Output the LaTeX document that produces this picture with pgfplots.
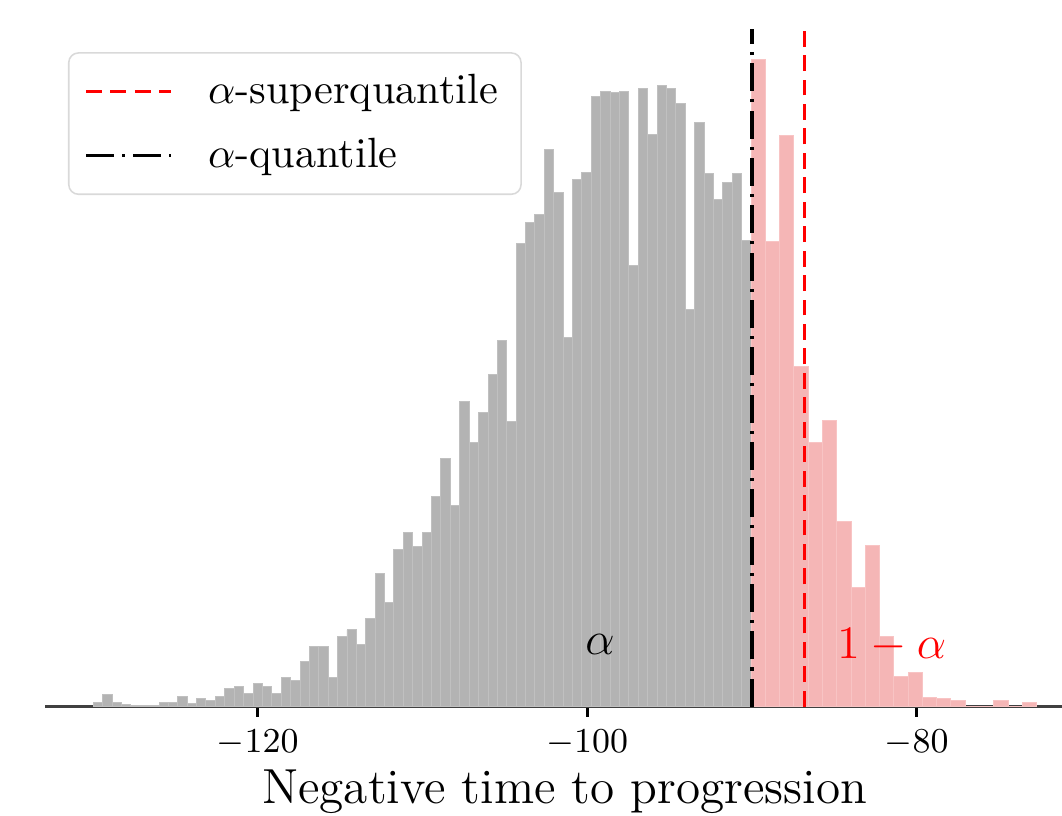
\documentclass[border=0pt]{standalone}
\usepackage{pgfplots}
\pgfplotsset{compat=1.18}
\usetikzlibrary{calc}

\definecolor{histgray}{RGB}{179,179,179}
\definecolor{histpink}{RGB}{245,182,182}

\begin{document}
\begin{tikzpicture}
\begin{axis}[
  scale only axis,
  width=262.1pt, height=174.6pt,
  xmin=-132.91, xmax=-71.18,
  ymin=0, ymax=676,
  axis x line*=bottom,
  axis y line=none,
  x axis line style={black!75, line width=0.8pt},
  xtick={-120,-100,-80},
  tick align=outside,
  major tick length=2.6pt,
  xtick style={black, line width=0.8pt},
  tick label style={font=\fontsize{9.5}{11}\selectfont},
  xlabel={Negative time to progression},
  xlabel style={font=\fontsize{12.7}{15}\selectfont, at={(axis description cs:0.511,0)}, anchor=base, yshift=-25pt},
  legend style={at={(0.0226,0.966)}, anchor=north west, draw=black!15, rounded corners=2.5pt,
    fill=white, font=\fontsize{10.9}{12.5}\selectfont, inner xsep=4pt, inner ysep=3.5pt,
    row sep=3.3pt, cells={anchor=west},
    /tikz/every odd column/.append style={column sep=7pt}},
  legend image code/.code={\draw[#1] (0pt,0pt) -- (22pt,0pt);},
]
% grey part of the histogram (below the quantile)
\addplot[ybar interval, fill=histgray, draw={rgb,255:red,192;green,192;blue,192}, line width=0.25pt, forget plot]
coordinates {
(-129.98,4)(-129.41,12.5)(-128.84,4.5)(-128.27,2)(-127.70,1)(-127.13,1)(-126.56,1)
(-125.99,4)(-125.42,4)(-124.85,10.5)(-124.28,3.5)(-123.71,8.5)(-123.14,6.5)(-122.57,10.5)
(-122.00,18)(-121.42,20.5)(-120.85,13)(-120.28,23)(-119.71,20.5)(-119.14,13)(-118.57,29)
(-118.00,26.5)(-117.43,45)(-116.86,60)(-116.29,60)(-115.72,29)(-115.15,70)(-114.58,76.5)
(-114.01,61.5)(-113.44,87.5)(-112.87,133)(-112.30,104)(-111.73,157)(-111.16,174)(-110.59,160)
(-110.02,174)(-109.45,210)(-108.88,248)(-108.30,200.5)(-107.73,304)(-107.16,264)(-106.59,293)
(-106.02,331)(-105.45,365)(-104.88,284)(-104.31,462)(-103.74,483)(-103.17,491.5)(-102.60,556)
(-102.03,512.5)(-101.46,368)(-100.89,526)(-100.32,533)(-99.75,609)(-99.18,614)(-98.61,612.5)
(-98.04,614)(-97.47,440)(-96.90,617)(-96.33,570.5)(-95.76,620)(-95.19,617)(-94.62,601.5)
(-94.05,396.5)(-93.47,583)(-92.90,531.5)(-92.33,506)(-91.76,523)(-91.19,531.5)(-90.62,465)
(-90.05,0)
};
% pink part of the histogram (above the quantile)
\addplot[ybar interval, fill=histpink, draw={rgb,255:red,248;green,196;blue,196}, line width=0.25pt, forget plot]
coordinates {
(-90.05,645.5)(-89.18,464)(-88.32,570)(-87.45,339)(-86.58,264)(-85.72,285)(-84.85,185)
(-83.98,119)(-83.12,161)(-82.25,70)(-81.38,30)(-80.52,34)(-79.65,9)(-78.78,8.5)
(-77.92,6.5)(-77.05,0)(-76.18,0)(-75.32,6)(-74.45,0)(-73.58,4.5)(-72.71,0)
};
\addplot[red, line width=0.8pt, dash pattern=on 4.1pt off 2.2pt]
coordinates {(-86.8,0) (-86.8,676)};
\addlegendentry{$\alpha$-superquantile}
\addplot[black, line width=0.9pt, dash pattern=on 7.2pt off 2.1pt on 0.8pt off 2.1pt]
coordinates {(-90.0,0) (-90.0,676)};
\addlegendentry{$\alpha$-quantile}
\node[font=\fontsize{12.7}{15}\selectfont] at (axis cs:-99.22,61.5) {$\alpha$};
\node[font=\fontsize{12.7}{15}\selectfont, text=red] at (axis cs:-81.52,61.5) {$1-\alpha$};
\end{axis}
\pgfresetboundingbox
\path[use as bounding box] ($(current axis.south west)+(-11.6pt,-28pt)$) rectangle ($(current axis.north east)+(0pt,7.5pt)$);
\end{tikzpicture}
\end{document}
